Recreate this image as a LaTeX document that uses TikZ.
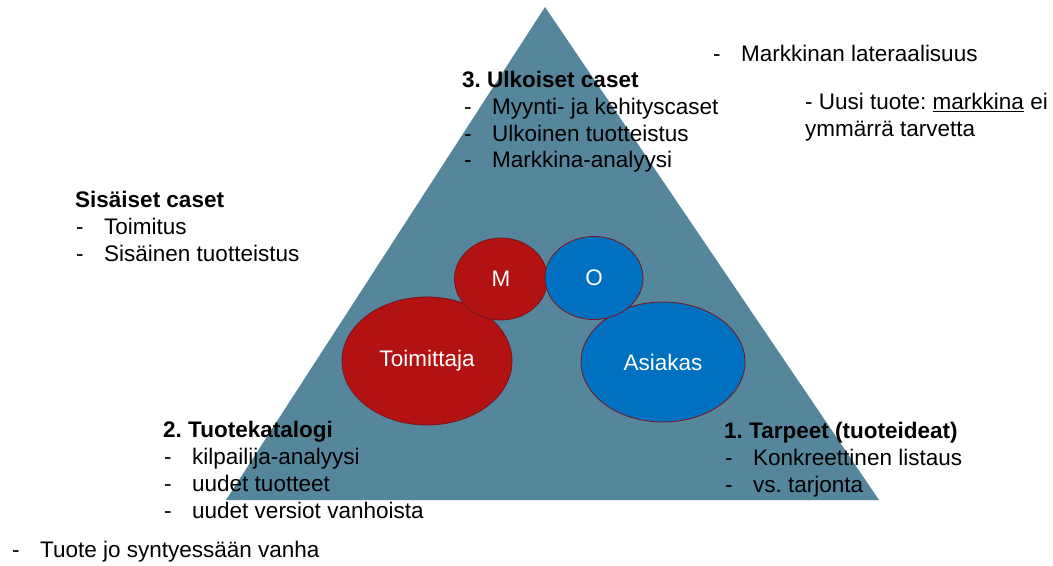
\documentclass[tikz,border=0pt]{standalone}
\usepackage{fontspec}
\setmainfont{Liberation Sans}
\usetikzlibrary{shapes.geometric}
\definecolor{tribg}{RGB}{86,134,155}
\definecolor{redfill}{RGB}{178,18,18}
\definecolor{bluefill}{RGB}{0,112,192}
\definecolor{rimred}{RGB}{120,20,30}
\newcommand{\bodyfont}{\fontsize{22.5bp}{27bp}\selectfont\frenchspacing}
\tikzset{
  txt/.style={anchor=base west, inner sep=0pt, font=\bodyfont},
  head/.style={txt, font=\bodyfont\bfseries},
  blob/.style={ellipse, draw=rimred, line width=0.8bp, text=white, inner sep=0pt,
    font=\bodyfont},
}
\newcommand{\itm}[1]{\makebox[28bp][l]{-}#1}
\begin{document}
\begin{tikzpicture}[x=1bp,y=-1bp]
\useasboundingbox (0,0) rectangle (1053,566);
\fill[white] (0,0) rectangle (1053,566);
% the triangle
\fill[tribg] (545,7) -- (879,500) -- (226,500) -- cycle;
% circles
\node[blob, fill=redfill, minimum width=170bp, minimum height=128bp] (toim) at (427,361) {Toimittaja};
\node[blob, fill=bluefill, minimum width=164bp, minimum height=120bp] (asi) at (663,362) {Asiakas};
\node[blob, fill=redfill, minimum width=93bp, minimum height=82bp] (m) at (501,279) {M};
\node[blob, fill=bluefill, minimum width=98bp, minimum height=83bp] (o) at (594,278) {O};
% top text
\node[head] (t3) at (462,88) {3. Ulkoiset caset};
\node[txt] (t3a) at (464,115) {\itm{Myynti- ja kehityscaset}};
\node[txt] (t3b) at (464,142) {\itm{Ulkoinen tuotteistus}};
\node[txt] (t3c) at (464,168) {\itm{Markkina-analyysi}};
% upper right notes
\node[txt] (lat) at (713,62) {\itm{Markkinan lateraalisuus}};
\node[txt] (uus1) at (805,110) {- Uusi tuote: \underline{markkina} ei};
\node[txt] (uus2) at (805,137) {ymmärrä tarvetta};
% left text
\node[head] (sis) at (75,208) {Sisäiset caset};
\node[txt] (sisa) at (76,235) {\itm{Toimitus}};
\node[txt] (sisb) at (76,262) {\itm{Sisäinen tuotteistus}};
% bottom left
\node[head] (t2) at (163,437) {2. Tuotekatalogi};
\node[txt] (t2a) at (164,464) {\itm{kilpailija-analyysi}};
\node[txt] (t2b) at (164,491) {\itm{uudet tuotteet}};
\node[txt] (t2c) at (164,518) {\itm{uudet versiot vanhoista}};
\node[txt] (old) at (12,557) {\itm{Tuote jo syntyessään vanha}};
% bottom right
\node[head] (t1) at (724,438) {1. Tarpeet (tuoteideat)};
\node[txt] (t1a) at (725,465) {\itm{Konkreettinen listaus}};
\node[txt] (t1b) at (725,492) {\itm{vs. tarjonta}};
\end{tikzpicture}
\end{document}
